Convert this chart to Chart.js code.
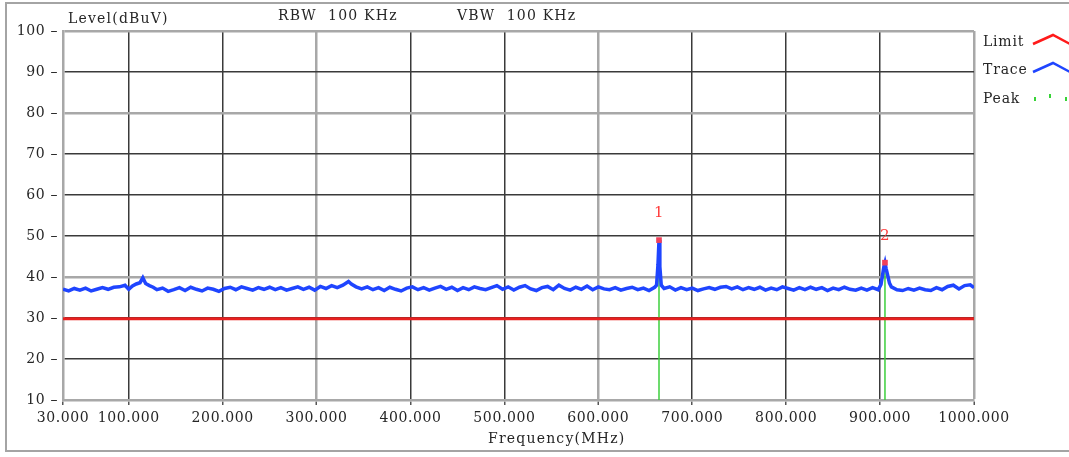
<!DOCTYPE html>
<html>
<head>
<meta charset="utf-8">
<script src="https://cdn.jsdelivr.net/npm/chart.js@4/dist/chart.umd.min.js"></script>
<style>
  body { margin: 0; background: #fff; }
  #wrap { position: relative; width: 1069px; height: 457px; overflow: hidden; font-family: "DejaVu Serif", serif; color: #262626; }
  #frame { position: absolute; left: 5px; top: 2px; width: 1090px; height: 450px; border: 2px solid #a4a4a4; box-sizing: border-box; }
  canvas { position: absolute; left: 0; top: 0; }
  .txt { position: absolute; font-size: 14px; letter-spacing: 1.2px; white-space: pre; line-height: 15px; }
  .leg { position: absolute; left: 983px; font-size: 14px; letter-spacing: 0.8px; line-height: 15px; }
  .icon { position: absolute; left: 1032px; }
</style>
</head>
<body>
<div id="wrap">
  <div id="frame"></div>
  <canvas id="spectrum" width="1069" height="457"></canvas>
  <div class="txt" style="left:68px;top:11px">Level(dBuV)</div>
  <div class="txt" style="left:278px;top:8px">RBW  100 KHz</div>
  <div class="txt" style="left:457px;top:8px">VBW  100 KHz</div>
  <div class="txt" style="left:488px;top:431px">Frequency(MHz)</div>

  <div class="leg" style="top:34px">Limit</div>
  <svg class="icon" style="top:32px" width="40" height="16"><polyline points="1,12 21,3 38,12" fill="none" stroke="#ff1a1a" stroke-width="2.5"/></svg>
  <div class="leg" style="top:62px">Trace</div>
  <svg class="icon" style="top:60px" width="40" height="16"><polyline points="1,12 21,3 38,12" fill="none" stroke="#1f45ff" stroke-width="2.5"/></svg>
  <div class="leg" style="top:91px">Peak</div>
  <svg class="icon" style="top:89px" width="40" height="16"><g stroke="#36d436" stroke-width="2"><line x1="3" y1="8" x2="3" y2="12"/><line x1="18" y1="5" x2="18" y2="9"/><line x1="34" y1="8" x2="34" y2="12"/></g></svg>
</div>
<script>
// frequency axis ticks (MHz)
const xTicks = [30, 100, 200, 300, 400, 500, 600, 700, 800, 900, 1000];

// measured trace: frequency (MHz) / level (dBuV)
const traceFreq = [
  30, 36, 42, 48, 54, 60, 66, 72, 78, 84,
  90, 96, 100, 104, 108, 112, 115, 118, 122, 126,
  130, 136, 142, 148, 154, 160, 166, 172, 178, 184,
  190, 196, 202, 208, 214, 220, 226, 232, 238, 244,
  250, 256, 262, 268, 274, 280, 286, 292, 298, 304,
  310, 316, 322, 328, 334, 337, 342, 348, 354, 360,
  366, 372, 378, 384, 390, 396, 402, 408, 414, 420,
  426, 432, 438, 444, 450, 456, 462, 468, 474, 480,
  486, 492, 498, 504, 510, 516, 522, 528, 534, 540,
  546, 552, 558, 564, 570, 576, 582, 588, 594, 600,
  606, 612, 618, 624, 630, 636, 642, 648, 654, 660,
  662, 663.5, 664.6, 665.5, 667, 670, 676, 682, 688, 694,
  700, 706, 712, 718, 724, 730, 736, 742, 748, 754,
  760, 766, 772, 778, 784, 790, 796, 802, 808, 814,
  820, 826, 832, 838, 844, 850, 856, 862, 868, 874,
  880, 886, 892, 898, 901, 903, 904, 905.2, 906.5, 908,
  910, 912, 918, 924, 930, 936, 942, 948, 954, 960,
  966, 972, 978, 984, 990, 996, 1000
];
const traceLevel = [
  37.0, 36.6, 37.2, 36.8, 37.3, 36.6, 37.0, 37.4, 37.0, 37.5,
  37.6, 38.0, 37.0, 37.8, 38.3, 38.6, 39.8, 38.4, 37.9, 37.5,
  36.9, 37.3, 36.5, 36.9, 37.4, 36.7, 37.5, 37.0, 36.6, 37.3,
  37.0, 36.5, 37.2, 37.5, 36.9, 37.6, 37.2, 36.8, 37.4, 37.0,
  37.5, 36.9, 37.4, 36.8, 37.2, 37.6, 37.0, 37.5, 36.8, 37.7,
  37.2, 37.9, 37.4, 38.0, 38.9, 38.3, 37.6, 37.1, 37.6, 36.9,
  37.4, 36.7, 37.5, 37.0, 36.6, 37.3, 37.6, 36.9, 37.4, 36.8,
  37.3, 37.7, 37.0, 37.5, 36.7, 37.4, 36.9, 37.6, 37.2, 36.9,
  37.4, 37.9, 37.0, 37.6, 36.8, 37.5, 37.9, 37.1, 36.7, 37.4,
  37.7, 36.9, 38.0, 37.2, 36.8, 37.5, 37.0, 37.8, 36.9, 37.6,
  37.1, 36.9, 37.4, 36.8, 37.2, 37.5, 36.9, 37.3, 36.7, 37.5,
  38.0, 43.0, 49.0, 42.5, 38.0, 37.2, 37.6, 36.8, 37.4, 36.9,
  37.3, 36.7, 37.1, 37.4, 37.0, 37.5, 37.7, 37.1, 37.6, 36.9,
  37.4, 37.0, 37.5, 36.8, 37.3, 36.9, 37.6, 37.2, 36.8, 37.4,
  36.9, 37.5, 37.0, 37.4, 36.7, 37.3, 36.9, 37.5, 37.0, 36.8,
  37.3, 36.8, 37.4, 36.9, 38.2, 41.0, 42.5, 43.5, 42.0, 40.5,
  38.5, 37.6, 36.9, 36.7, 37.2, 36.8, 37.3, 36.9, 36.7, 37.4,
  36.9, 37.7, 38.0, 37.1, 37.9, 38.1, 37.4
];

// limit line
const limitFreq = [30, 1000];
const limitLevel = [29.8, 29.8];

// marked peaks
const peakLabels = ["1", "2"];
const peakFreq = [664.6, 905.2];
const peakLevel = [49.0, 43.5];

const grayX = [300, 600, 1000];
const grayY = [40, 80, 100];

document.addEventListener("DOMContentLoaded", function () {
  const canvas = document.getElementById("spectrum");

  const toPoints = (xs, ys) => xs.map((x, i) => ({ x: x, y: ys[i] }));

  // one green stem per peak, from bottom of axis up to the peak
  const peakStems = peakFreq.map((f, i) => ({
    data: [{ x: f, y: 10 }, { x: f, y: peakLevel[i] }],
    borderColor: "#3ccf3c",
    borderWidth: 1.5,
    pointRadius: 0,
    order: 3,
  }));

  // wider letter spacing for the axis numbers
  const spacing = {
    id: "spacing",
    beforeDraw(chart) {
      chart.ctx.letterSpacing = "0.6px";
    },
  };

  // draws the "1", "2" markers above the peaks
  const peakText = {
    id: "peakText",
    afterDatasetsDraw(chart) {
      const { ctx, scales } = chart;
      ctx.save();
      ctx.fillStyle = "#ff3b3b";
      ctx.font = "15px 'DejaVu Serif'";
      ctx.textAlign = "center";
      ctx.textBaseline = "middle";
      peakLabels.forEach((t, i) => {
        const px = scales.x.getPixelForValue(peakFreq[i]);
        const py = scales.y.getPixelForValue(peakLevel[i]);
        ctx.fillText(t, px, py - 27);
      });
      ctx.restore();
    },
  };

  new Chart(canvas, {
    type: "line",
    data: {
      datasets: [
        {
          label: "Peak",
          data: toPoints(peakFreq, peakLevel),
          showLine: false,
          pointStyle: "rect",
          pointRadius: 4,
          pointBackgroundColor: "#f0405a",
          pointBorderWidth: 0,
          order: 0,
        },
        {
          label: "Trace",
          data: toPoints(traceFreq, traceLevel),
          borderColor: "#1f45ff",
          borderWidth: 3.5,
          pointRadius: 0,
          tension: 0,
          order: 1,
        },
        {
          label: "Limit",
          data: toPoints(limitFreq, limitLevel),
          borderColor: "#e8201f",
          borderWidth: 3,
          pointRadius: 0,
          order: 2,
        },
        ...peakStems,
      ],
    },
    options: {
      responsive: false,
      animation: false,
      devicePixelRatio: 1,
      layout: { padding: { top: 31, right: 95, left: 0, bottom: 0 } },
      plugins: {
        legend: { display: false },
        tooltip: { enabled: false },
      },
      scales: {
        x: {
          type: "linear",
          min: 30,
          max: 1000,
          afterBuildTicks: (scale) => {
            scale.ticks = xTicks.map((v) => ({ value: v }));
          },
          afterFit: (scale) => {
            scale.height = 57;
          },
          ticks: {
            autoSkip: false,
            maxRotation: 0,
            padding: 5,
            color: "#262626",
            font: { family: "DejaVu Serif", size: 14 },
            callback: (v) => Number(v).toFixed(3),
          },
          grid: {
            color: (ctx) => (ctx.tick && grayX.includes(ctx.tick.value) ? "#a8a8a8" : "#3a3a3a"),
            lineWidth: (ctx) => (ctx.tick && grayX.includes(ctx.tick.value) ? 2.5 : 1.5),
            drawTicks: true,
            tickLength: 5,
            tickColor: "#555",
            tickWidth: 1.5,
          },
          border: { color: "#a8a8a8", width: 2.5 },
        },
        y: {
          min: 10,
          max: 100,
          afterFit: (scale) => {
            scale.width = 63;
          },
          ticks: {
            stepSize: 10,
            padding: 5,
            color: "#262626",
            font: { family: "DejaVu Serif", size: 14 },
            callback: (v) => v + " \u2013",
          },
          grid: {
            color: (ctx) => (ctx.tick && grayY.includes(ctx.tick.value) ? "#a8a8a8" : "#3a3a3a"),
            lineWidth: (ctx) => (ctx.tick && grayY.includes(ctx.tick.value) ? 2.5 : 1.5),
            drawTicks: false,
          },
          border: { color: "#a8a8a8", width: 2.5 },
        },
      },
    },
    plugins: [spacing, peakText],
  });
});
</script>
</body>
</html>
